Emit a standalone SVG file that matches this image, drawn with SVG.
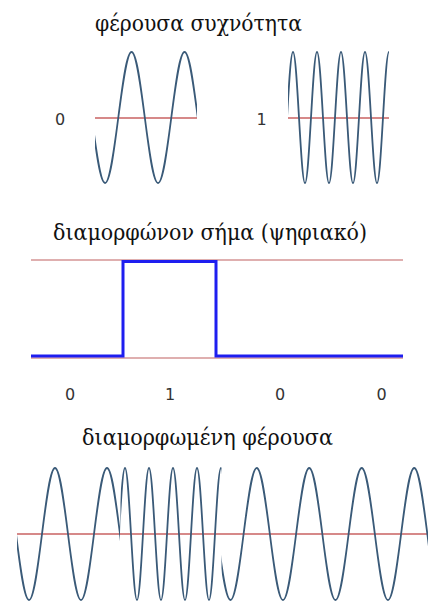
<svg xmlns="http://www.w3.org/2000/svg" xmlns:xlink="http://www.w3.org/1999/xlink" width="430" height="602" viewBox="0 0 430 602">
<style>
.title{font-family:"DejaVu Serif","Liberation Serif",serif;font-size:22px;fill:#111}
.num{font-family:"DejaVu Sans",Verdana,sans-serif;font-size:16px;fill:#333;text-anchor:middle}
.axis{stroke:#c86262;stroke-width:1.6;fill:none}
.ref{stroke:#c06060;stroke-width:1.2;fill:none}
.wave{stroke:#3a5a78;stroke-width:1.8;fill:none}
</style>
<defs>
<path id="sine" vector-effect="non-scaling-stroke" d="M-4,0 c0.3261,-0.5123 0.6381,-1 1,-1 s0.6739,0.4877 1,1 s0.6381,1 1,1 s0.6739,-0.4877 1,-1 s0.6381,-1 1,-1 s0.6739,0.4877 1,1 s0.6381,1 1,1 s0.6739,-0.4877 1,-1 s0.6381,-1 1,-1 s0.6739,0.4877 1,1 s0.6381,1 1,1 s0.6739,-0.4877 1,-1 s0.6381,-1 1,-1 s0.6739,0.4877 1,1 s0.6381,1 1,1 s0.6739,-0.4877 1,-1 s0.6381,-1 1,-1 s0.6739,0.4877 1,1 s0.6381,1 1,1 s0.6739,-0.4877 1,-1 s0.6381,-1 1,-1 s0.6739,0.4877 1,1 s0.6381,1 1,1 s0.6739,-0.4877 1,-1 s0.6381,-1 1,-1 s0.6739,0.4877 1,1 s0.6381,1 1,1 s0.6739,-0.4877 1,-1 s0.6381,-1 1,-1"/>
<clipPath id="c0"><rect x="95" y="40" width="102" height="160"/></clipPath>
<clipPath id="c1"><rect x="288" y="40" width="101" height="160"/></clipPath>
<clipPath id="m1"><rect x="17" y="460" width="103" height="142"/></clipPath>
<clipPath id="m2"><rect x="120.5" y="460" width="101" height="142"/></clipPath>
<clipPath id="m3"><rect x="221.5" y="460" width="206.5" height="142"/></clipPath>
</defs>
<rect width="430" height="602" fill="#fff"/>

<g id="carrier">
<text class="title" x="95" y="31" textLength="207" lengthAdjust="spacingAndGlyphs">φέρουσα συχνότητα</text>
<g id="carrier-0">
<text class="num" x="60" y="125">0</text>
<line class="axis" x1="95" y1="118" x2="197" y2="118"/>
<g clip-path="url(#c0)"><use class="wave" xlink:href="#sine" transform="translate(118.3,117.5) scale(13.25,65.5)"/></g>
</g>
<g id="carrier-1">
<text class="num" x="261.5" y="125">1</text>
<line class="axis" x1="288" y1="118" x2="389" y2="118"/>
<g clip-path="url(#c1)"><use class="wave" xlink:href="#sine" transform="translate(287,117.5) scale(6,65.5)"/></g>
</g>
</g>

<g id="modulating">
<text class="title" x="53" y="240" textLength="314" lengthAdjust="spacingAndGlyphs">διαμορφώνον σήμα (ψηφιακό)</text>
<line class="ref" x1="31" y1="260" x2="403" y2="260"/>
<line class="ref" x1="31" y1="358" x2="403" y2="358"/>
<path d="M31,356 H123 V261.5 H216 V356 H403" fill="none" stroke="#1e1ef0" stroke-width="3"/>
<text class="num" x="70" y="400">0</text>
<text class="num" x="170" y="400">1</text>
<text class="num" x="280" y="400">0</text>
<text class="num" x="381.7" y="400">0</text>
</g>

<g id="modulated">
<text class="title" x="82" y="445" textLength="251" lengthAdjust="spacingAndGlyphs">διαμορφωμένη φέρουσα</text>
<line class="axis" x1="17" y1="534" x2="428" y2="534"/>
<g clip-path="url(#m1)"><use class="wave" xlink:href="#sine" transform="translate(42,534) scale(13,66)"/></g>
<g clip-path="url(#m2)"><use class="wave" xlink:href="#sine" transform="translate(119,534) scale(6,66)"/></g>
<g clip-path="url(#m3)"><use class="wave" xlink:href="#sine" transform="translate(243.6,534) scale(13.125,66)"/></g>
</g>
</svg>
